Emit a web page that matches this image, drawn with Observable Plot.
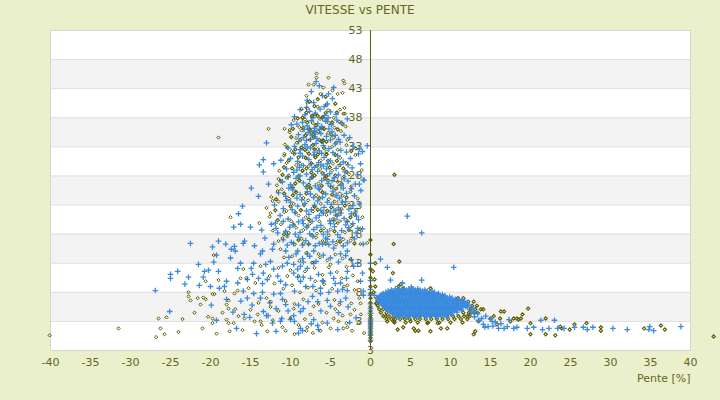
<!DOCTYPE html>
<html><head><meta charset="utf-8">
<script src="https://cdn.jsdelivr.net/npm/d3@7"></script>
<script src="https://cdn.jsdelivr.net/npm/@observablehq/plot@0.6"></script>
<style>
html,body{margin:0;padding:0;background:#ebf0cc;}
#wrap{width:720px;height:400px;overflow:hidden;font-family:"DejaVu Sans",sans-serif;}
#title{height:20px;line-height:20px;text-align:center;font-size:12px;color:#666622;}
</style></head><body><div id="wrap"><div id="title">VITESSE vs PENTE</div><div id="chart"></div></div>
<script>
// ---- data (x = pente %, y = vitesse) ----
const xTicks = [-40,-35,-30,-25,-20,-15,-10,-5,0,5,10,15,20,25,30,35,40];
const yTicks = [53,48,43,38,33,28,23,18,13,8,3];
const yGrid = [53,48,43,38,33,28,23,18,13,8,3,-2];
const greyBands = [43,33,23,13,3];
const yMin = -2;
const yBottomLabel = "3";

const blueLeft = [
 -6.4,43.5, -7.4,42.5, -6,41.8, -4.6,43.2, -5.25,42.1, -4.75,41.3, -7.1,40.6, -5.4,40.4, -7.9,41.0, -6.8,44.2, -5.8,39.9,
 -13,33.7, -9.9,36.8, -9.5,38.2, -13.4,30.8, -13.9,29.9, -13.4,28.7, -12.1,30.1, -14.9,25.9, -12.75,26.6, -16,22.8,
 -0.4,33.2, -1.4,32.7, -1.5,31.8, -1.25,30.1, -0.9,27.3, -1.4,26.6, -1.75,21.1, -1.6,19.0, -1.0,18.9,
 -17.1,19.2, -16.25,19.7, -13.6,18.7, -12.4,19.7, -11.9,19.9, -22.5,16.4, -19,16.8, -19.75,15.8, -19.25,14.4, -18.1,16.3,
 -17.4,15.4, -17,15.9, -16.9,15.1, -15.9,16.4, -15.75,16.8, -19.6,13.2, -20.75,11.6, -20.25,11.8, -20.9,10.6, -21.4,9.2,
 -22.75,10.6, -24.1,11.6, -25,11.1, -25,10.4, -26.9,8.3, -19.9,5.8, -18.9,8.7, -18.25,9.0, -18,9.9, -25.1,4.7,
 -19.25,3.2, -16.75,1.8, -15.1,3.7, -14.25,0.9, -12.25,2.7, -13.4,4.7, -13,4.0, -11.1,3.5, -11.25,3.0, -10,3.3,
 -9.5,3.0, -8.75,1.8, -8.5,1.4, -7.1,3.3, -6.6,2.3, -6.5,1.6, -5.4,2.7, -4.1,1.6, -2.6,2.8, -3.75,6.4,
 -3.1,7.0, -0.9,7.5, -0.9,8.2, -1.25,9.9, -1.0,11.3, -2.9,8.3, -3.75,9.6, -3.5,8.5, -4.6,10.4, -4.1,8.2,
 -6.25,8.7, -6.25,7.8, -5.4,6.6, -6.6,6.4, -7.25,7.3, -8.4,5.2, -9,5.8, -8.75,4.7, -10.6,5.9, -11,6.8,
 -11.25,7.8, -12.1,7.7, -13.5,8.0, -13.75,7.0, -14.6,7.8, -15.4,7.0, -15.9,8.2, -16.6,9.6, -15.4,10.2, -14.75,11.1,
 -14,10.4, -13.4,11.3, -12.9,10.2, -12.1,12.0, -11.6,10.8, -11.25,9.9, -9.6,11.3, -9.1,10.6, -8.75,9.9, -8.1,9.0,
 -7.5,10.4, -6.5,11.1, -5.9,9.9, -5,11.3, -8.75,12.5, -9.1,12.0, -7.9,12.1, -7.1,13.0, -8.4,13.2, -9.6,12.8,
 -10.4,13.0, -11,12.5, -12.5,13.3, -13.1,12.8, -14.6,13.0, -14.9,12.1, -16.25,13.0, -16.6,12.1, -17.5,13.9, -13.75,14.6,
 -13.5,15.1, -12.25,15.4, -12.1,16.3, -10.6,15.1, -10.4,18.0, -11.6,18.2, -9.6,16.4, -9.1,15.1, -7.9,14.6, -7.75,16.3,
 -7.1,15.1, -6,16.3, -5.4,17.1, -4.6,15.6, -3.75,14.6, -2.9,15.1, -0.9,16.3, -1.6,13.0, -2.1,12.5, -2.9,11.6,
 -8.2,38.5, -7.6,39.1, -6.9,38.8, -6.3,39.5, -5.7,38.4, -5.0,39.0, -4.3,38.6, -8.8,39.4,
 -8.5,37.2, -7.9,36.6, -7.4,37.5, -7.0,36.2, -6.6,37.0, -6.1,36.5, -5.6,37.4, -4.9,36.8, -4.2,37.6, -3.6,37.1, -2.9,37.8, -9.2,36.9,
 -9.0,35.1, -8.4,34.6, -7.8,35.5, -7.3,35.0, -7.0,35.8, -6.7,34.4, -6.2,35.3, -5.5,34.8, -4.8,35.6, -4.0,34.3, -3.3,35.0, -2.6,34.6, -8.0,34.1,
 -9.5,33.1, -8.8,32.5, -8.2,33.4, -7.5,32.8, -6.8,33.6, -6.4,32.3, -5.9,33.2, -5.2,32.7, -4.4,33.5, -3.7,32.4, -2.2,33.1, -1.0,32.2, -10.3,32.8,
 -10.0,31.0, -9.1,30.5, -8.5,31.4, -7.7,30.8, -7.1,31.6, -6.5,30.3, -5.8,31.2, -5.0,30.6, -4.1,31.5, -3.4,30.4, -2.5,31.0, -11.2,30.7,
 -10.5,29.2, -9.6,28.6, -8.9,29.5, -8.0,28.3, -7.3,29.1, -6.6,28.8, -5.9,29.7, -5.1,28.4, -4.3,29.3, -3.2,28.7, -2.3,29.4, -1.6,28.2,
 -11.0,27.0, -10.0,26.5, -9.3,27.6, -8.4,26.8, -7.6,27.4, -6.9,26.3, -6.1,27.2, -5.3,26.7, -4.5,27.7, -3.7,26.4, -2.8,27.1, -1.9,26.6, -0.8,27.3,
 -11.5,25.1, -10.6,24.5, -9.7,25.6, -8.8,24.8, -7.9,25.3, -7.1,24.3, -6.4,25.7, -5.6,24.9, -4.7,25.4, -3.9,24.2, -3.0,25.0, -2.0,24.6, -1.2,25.5,
 -12.0,23.0, -10.9,22.4, -10.0,23.5, -9.1,22.8, -8.2,23.3, -7.4,22.2, -6.6,23.7, -5.8,22.6, -4.9,23.1, -4.0,22.5, -3.1,23.6, -2.2,22.9, -1.4,23.2,
 -11.3,21.2, -10.3,20.6, -9.4,21.7, -8.5,20.4, -7.7,21.4, -6.8,20.8, -5.9,21.6, -5.1,20.3, -4.2,21.1, -3.3,20.7, -2.4,21.5, -1.5,20.5,
 -11.8,19.0, -10.6,18.5, -9.7,19.6, -8.8,18.3, -8.0,19.2, -7.1,18.8, -6.2,19.5, -5.4,18.4, -4.5,19.3, -3.6,18.6, -2.7,19.1, -1.8,18.2,
 -10.9,17.0, -9.9,16.6, -9.0,17.5, -8.1,16.9, -7.2,17.6, -6.4,16.4, -5.6,17.3, -4.7,16.7, -3.8,17.4, -2.9,16.5, -2.0,17.2,
 -10.2,14.0, -9.3,14.6, -8.5,13.8, -7.6,14.2, -6.8,13.3, -5.9,14.4, -5.0,13.9, -4.0,13.2, -3.1,14.3, -2.4,13.6,
 -10.6,9.3, -9.5,8.2, -8.4,10.6, -7.2,9.0, -6.0,10.0, -5.2,8.0, -4.4,9.5, -3.0,10.4,
 -12.6,6.2, -11.8,5.2, -10.3,4.8, -9.6,4.0, -7.8,6.4, -6.2,4.8, -5.0,5.6, -4.0,4.5, -2.8,5.5, -1.8,3.6, -7.4,2.6, -9.0,1.0,
 -11.8,1.3, -12.8,4.0, -14.8,5.8, -15.8,4.2, -17.2,4.6, -16.2,6.5, -18.0,6.8, -19.0,11.6, -20.0,9.0, -21.5,12.8, -23.2,9.4,
 -13.5,9.5, -13.2,17.3, -14.5,16.0, -15.0,19.2, -16.5,21.5, -14.0,24.5,
 -8.0,39.8, -7.2,38.0, -6.0,37.9, -5.3,38.0, -8.3,36.0, -7.7,36.1, -6.4,36.0, -5.2,36.1, -4.4,35.0, -7.5,34.3,
 -6.9,35.2, -6.0,34.0, -5.0,34.2, -3.8,33.8, -9.0,33.9, -7.9,33.0, -7.0,32.1, -6.1,31.9, -4.7,32.0, -3.0,32.1,
 -9.6,31.9, -8.8,31.9, -7.4,30.1, -6.2,29.9, -5.4,30.1, -3.8,30.0, -9.2,29.0, -8.4,29.8, -7.0,29.5, -5.5,29.2,
 -4.0,28.2, -2.8,29.9, -10.3,27.8, -8.8,28.0, -7.2,27.9, -5.8,28.2, -4.8,27.2, -3.3,27.5, -9.8,26.0, -8.0,26.2,
 -6.5,25.9, -5.0,26.2, -3.4,25.9, -2.4,25.8, -10.2,25.9, -9.2,24.2, -7.5,24.9, -6.0,24.3, -4.3,24.7, -3.5,23.5,
 -10.5,23.8, -8.6,23.9, -7.0,23.0, -5.4,23.5, -4.4,22.0, -2.7,22.3, -9.8,22.2, -8.0,22.0, -6.2,22.1, -5.0,21.8,
 -3.7,21.6, -1.9,21.8, -10.9,20.2, -9.0,20.1, -7.3,20.2, -6.4,21.2, -4.6,20.3, -2.9,20.1, -10.1,19.2, -8.4,19.8,
 -6.7,19.2, -5.0,19.8, -3.1,19.6, -2.2,19.8, -9.4,18.0, -7.6,18.1, -5.9,18.0, -4.1,17.9, -10.4,16.1, -8.5,16.1,
 -6.9,16.0, -5.2,16.2, -3.4,16.0
];

// olive points of the left cloud drawn above the blue ones
const oliveLeftA = [
 -6.75,45.6, -6.75,44.9, -5.25,44.9, -7.75,43.7, -7.1,43.7, -8,41.8, -5.9,43.2, -6.25,42.1, -4.75,42.7, -4.1,42.1,
 -7.9,40.6, -3.4,44.4, -3.25,43.9, -3.5,42.3, -3.25,39.7, -3.4,38.7, -8.6,39.5,
 -19,34.6, -12.75,36.1, -10.75,36.1, -10.1,35.9, -10.75,31.8, -10.5,30.2, -11.5,27.5, -11.6,25.4, -12.25,23.7,
 -40.1,0.6, -31.5,1.8, -25.5,3.7, -26.5,3.5, -26.25,1.8, -25.75,0.8,
 -17.5,20.9, -13.9,19.9, -12.5,21.6, -19.6,14.4, -20.6,9.9, -22.75,8.0, -22.75,7.3, -22.5,6.6, -21.6,7.0, -20.9,7.1,
 -20.6,6.8, -21.25,5.9, -19.75,7.7, -19.5,7.7, -18.25,8.2, -18,5.9, -17.75,5.2, -19,10.1, -19.75,3.5, -19.75,2.7,
 -19.25,0.9, -18,3.3, -17.75,2.7, -17.6,1.3, -17.1,2.7, -16.5,3.9, -15.75,3.5, -16.9,5.1, -17.75,6.6, -12.9,1.3,
 -13.75,3.0, -14.1,4.2, -10.6,1.4, -9.5,0.8, -7.9,2.0, -8,1.4, -6.25,1.4, -4.6,3.5, -3.4,1.8, -3,2.7,
 -2.9,2.0, -2.5,4.2, -4.4,5.1, -3.9,5.9, -2.4,6.1, -1.25,6.1, -1.4,7.0, -1.6,9.9, -2.9,9.2, -3.6,10.4,
 -7.1,5.6, -9.6,5.2, -12.5,6.4, -13,7.0, -15.25,8.7, -16.6,8.3, -16.25,10.4, -14.4,9.6, -12.6,10.8, -10.4,10.8,
 -6.9,9.9, -5,12.8, -13.75,12.5, -15.9,12.0, -11.25,15.4, -11,17.3, -8.4,16.4, -6.5,14.6, -4.1,16.8, -1.25,16.3,
 -0.4,16.5, -2.5,13.7,
 -8.5,38.0, -7.9,39.6, -7.3,38.3, -6.6,39.9, -6.0,38.1, -5.3,39.3, -4.6,38.0, -3.8,39.4, -3.2,38.7,
 -9.6,37.6, -8.9,36.4, -8.2,37.7, -7.6,36.0, -7.2,37.1, -6.8,36.7, -6.3,37.8, -5.8,36.1, -5.2,37.1, -4.5,36.3, -3.9,37.3, -3.1,36.5,
 -10.1,35.5, -9.3,34.5, -8.6,35.8, -8.1,35.0, -7.6,34.2, -7.1,34.7, -6.5,35.6, -5.9,34.1, -5.3,35.4, -4.6,34.6, -3.7,35.7, -2.9,34.2,
 -10.7,33.4, -9.9,32.3, -9.2,33.7, -8.6,32.9, -7.9,32.2, -7.2,33.3, -6.6,32.6, -6.1,33.9, -5.5,32.2, -4.8,33.0, -4.1,32.5, -3.0,33.3, -1.8,32.7,
 -10.8,31.5, -9.5,31.8, -8.8,30.1, -8.1,31.1, -7.4,30.2, -6.9,31.2, -6.2,30.7, -5.5,31.7, -4.7,30.1, -3.8,31.1, -3.0,30.2, -1.9,31.6,
 -11.4,28.9, -10.2,28.1, -9.3,29.9, -8.5,28.9, -7.7,29.7, -7.0,28.1, -6.3,29.2, -5.5,28.0, -4.8,28.9, -3.9,29.8, -2.7,28.3, -1.1,29.0,
 -11.7,26.4, -10.5,27.7, -9.7,26.1, -8.9,27.2, -8.0,26.0, -7.3,27.8, -6.5,26.7, -5.7,27.6, -4.9,26.1, -4.1,27.0, -3.3,27.9, -2.4,26.2,
 -12.4,24.4, -11.1,25.7, -10.2,24.1, -9.3,25.2, -8.4,24.2, -7.5,25.9, -6.8,24.7, -6.0,25.2, -5.2,24.0, -4.3,25.8, -3.5,24.6, -2.5,25.3, -1.6,24.1,
 -13.0,22.5, -11.5,23.6, -10.5,22.0, -9.6,23.2, -8.7,22.1, -7.8,23.8, -7.0,22.7, -6.2,23.2, -5.4,22.0, -4.5,23.6, -3.6,22.3, -2.7,23.1, -1.8,22.2,
 -12.6,21.0, -10.8,21.8, -9.9,20.2, -9.0,21.2, -8.1,20.9, -7.2,21.9, -6.4,20.2, -5.5,21.3, -4.7,20.6, -3.8,21.8, -2.9,20.3, -2.0,21.3, -1.0,20.9,
 -12.2,18.6, -11.2,19.7, -10.2,18.2, -9.3,19.1, -8.4,18.7, -7.6,19.8, -6.7,18.1, -5.8,19.0, -5.0,18.8, -4.1,19.9, -3.2,18.3, -2.3,19.5, -1.3,18.9,
 -11.5,16.8, -10.4,17.6, -9.5,16.2, -8.6,17.2, -7.7,16.3, -6.8,17.4, -6.0,16.8, -5.2,17.8, -4.3,16.2, -3.4,17.1, -2.5,16.9,
 -9.8,14.2, -8.9,13.4, -8.0,14.8, -7.3,13.1, -6.3,14.0, -5.4,13.5, -4.4,14.5, -3.5,13.8, -10.8,14.0, -11.5,12.2,
 -10.0,11.8, -9.0,10.8, -8.2,11.6, -7.0,12.2, -6.0,11.0, -5.2,12.3, -4.2,11.5, -3.0,12.4, -2.2,10.9,
 -12.0,9.5, -10.9,8.6, -9.8,9.2, -8.8,8.0, -7.8,8.8, -6.8,8.3, -5.8,9.4, -4.8,8.6, -3.3,9.0, -2.0,8.4,
 -12.5,5.5, -11.5,4.8, -10.6,6.5, -9.5,6.0, -8.4,6.8, -7.5,4.2, -6.5,6.0, -5.5,4.5, -4.5,6.7, -3.5,4.0, -2.0,5.0, -1.2,4.2,
 -13.6,2.4, -12.2,3.2, -11.0,2.0, -10.0,3.6, -9.0,2.4, -8.2,3.4, -7.2,1.0, -6.0,2.8, -5.0,1.8, -4.0,3.0, -2.3,1.4, -1.5,2.8, -0.8,1.0,
 -15.0,5.0, -14.0,6.2, -15.5,10.5, -17.0,7.8, -14.5,3.0, -16.0,1.5, -18.5,4.5, -22.0,4.5, -23.5,3.4, -24.0,1.2, -21.0,1.8, -20.3,3.8, -26.8,0.3
];

// olive points of the left cloud drawn under the blue ones
const oliveLeftB = [
 -7.6,40.8, -6.6,41.2, -5.6,41.6, -7.0,40.0, -5.5,40.2, -4.4,40.4, -8.0,38.9, -6.9,38.6, -5.6,38.8, -4.2,38.9,
 -9.1,37.9, -7.9,37.2, -6.6,38.3, -5.5,37.6, -4.8,37.2, -3.5,36.9, -9.7,36.1, -8.4,36.3, -7.0,35.5, -6.1,36.2,
 -4.9,35.1, -4.1,36.0, -9.9,34.7, -8.8,34.2, -7.4,35.4, -6.4,34.2, -5.5,33.9, -4.3,33.7, -10.4,32.9, -9.4,32.6,
 -8.2,32.5, -7.0,32.6, -5.8,32.8, -4.4,31.6, -2.4,32.3, -10.2,30.7, -9.0,31.2, -7.7,31.8, -6.6,31.7, -5.3,30.6,
 -4.2,30.6, -10.8,29.5, -9.8,29.3, -8.0,29.3, -6.7,29.7, -5.1,29.5, -3.4,29.3, -11.0,28.2, -9.0,28.0, -7.4,28.6,
 -6.0,28.5, -4.4,28.1, -3.0,28.7, -11.2,27.1, -9.4,26.7, -7.7,26.5, -6.1,26.3, -5.3,27.2, -3.6,26.6, -10.8,25.0,
 -9.7,24.7, -8.0,25.0, -6.4,24.2, -4.8,24.8, -3.0,24.3, -11.8,24.0, -10.0,22.8, -8.3,23.0, -6.6,22.2, -4.9,22.6,
 -3.2,22.9, -11.9,22.1, -9.4,21.7, -7.7,20.5, -6.0,21.8, -4.2,21.3, -2.5,20.9, -11.6,20.4, -9.6,19.6, -7.9,19.3,
 -6.2,18.6, -4.5,18.5, -2.7,18.7, -10.8,18.0, -9.0,17.0, -7.3,17.8, -5.6,16.4, -3.8,16.7, -2.0,16.4,
 -8.5,38.0, -7.3,38.3, -6.0,38.1, -7.6,36.0, -6.8,36.7, -5.8,36.1, -8.1,35.0, -7.1,34.7, -5.9,34.1, -8.6,32.9,
 -7.2,33.3, -6.1,33.9, -8.1,31.1, -6.9,31.2, -5.5,31.7, -8.5,28.9, -7.0,28.1, -5.5,28.0, -8.9,27.2, -7.3,27.8,
 -5.7,27.6, -9.3,25.2, -7.5,25.9, -6.0,25.2, -8.7,22.1, -7.0,22.7, -5.4,22.0
];

const blueBlobRows = [
 [8.6,[3.1,3.6,4.2,4.8,5.3,5.9]],
 [8.4,[2.6,3.4,3.9,4.5,5.1,5.6,6.2,6.8]],
 [8.2,[2.2,2.7,3.3,3.8,4.3,4.9,5.4,6.0,6.5,7.1,7.7]],
 [8.0,[1.9,2.4,2.9,3.5,4.0,4.6,5.1,5.7,6.3,6.8,7.4,8.0]],
 [7.8,[1.6,2.1,2.6,3.2,3.7,4.1,4.6,5.2,5.7,6.2,6.8,7.3,7.9,8.5]],
 [7.6,[1.4,1.9,2.5,3.0,3.5,4.0,4.6,5.1,5.7,6.2,6.8,7.3,7.8,8.4,9.0]],
 [7.4,[1.2,1.7,2.3,2.8,3.3,3.9,4.4,4.9,5.5,6.0,6.5,7.0,7.6,8.1,8.7,9.3]],
 [7.2,[1.1,1.7,2.2,2.8,3.3,3.9,4.4,5.0,5.5,6.0,6.6,7.1,7.7,8.2,8.8,9.3,9.9]],
 [7.0,[1.0,1.5,2.0,2.6,3.1,3.6,4.1,4.7,5.2,5.8,6.3,6.8,7.4,7.9,8.4,9.0,9.6,10.2]],
 [6.8,[1.0,1.5,2.0,2.5,3.0,3.5,4.0,4.5,5.1,5.6,6.2,6.7,7.2,7.8,8.3,8.9,9.4,10.0,10.6,11.1]],
 [6.6,[1.1,1.6,2.2,2.7,3.3,3.8,4.3,4.8,5.4,5.9,6.5,7.0,7.5,8.1,8.6,9.2,9.7,10.3,10.9,11.4]],
 [6.4,[1.2,1.7,2.3,2.8,3.3,3.8,4.3,4.8,5.3,5.8,6.4,6.9,7.5,8.0,8.5,9.1,9.6,10.2,10.7,11.3,11.8]],
 [6.2,[1.3,1.8,2.4,2.9,3.4,4.0,4.5,5.0,5.6,6.1,6.7,7.2,7.8,8.3,8.8,9.4,9.9,10.5,11.0,11.6,12.1]],
 [6.0,[1.4,2.0,2.5,3.0,3.5,4.0,4.6,5.1,5.6,6.1,6.6,7.1,7.7,8.2,8.7,9.3,9.8,10.4,10.9,11.5,12.0]],
 [5.8,[1.5,2.0,2.6,3.1,3.6,4.2,4.7,5.3,5.8,6.3,6.9,7.4,7.9,8.5,9.0,9.6,10.1,10.7,11.2,11.8,12.3]],
 [5.6,[1.7,2.2,2.7,3.3,3.8,4.3,4.8,5.4,5.9,6.4,7.0,7.5,8.0,8.6,9.1,9.7,10.2,10.8,11.3,11.9]],
 [5.4,[1.9,2.4,2.9,3.4,4.0,4.5,5.1,5.6,6.1,6.7,7.2,7.7,8.3,8.8,9.4,9.9,10.4,11.0,11.5,12.1]],
 [5.2,[2.0,2.5,3.0,3.6,4.1,4.7,5.2,5.7,6.3,6.8,7.3,7.9,8.4,9.0,9.5,10.1,10.6,11.2]],
 [5.0,[2.2,2.8,3.3,3.8,4.4,4.9,5.4,6.0,6.5,7.1,7.6,8.1,8.7,9.2,9.8,10.3,10.8,11.4]],
 [4.8,[2.4,2.9,3.5,4.0,4.5,5.1,5.6,6.2,6.7,7.2,7.8,8.3,8.9,9.4,10.0,10.5]],
 [4.6,[2.6,3.2,3.7,4.2,4.8,5.3,5.9,6.4,6.9,7.5,8.0,8.6,9.1,9.7,10.2,10.8]],
 [4.4,[2.8,3.4,3.9,4.5,5.1,5.6,6.2,6.7,7.3,7.8,8.4,8.9,9.5,10.0]],
 [4.2,[3.0,3.6,4.3,5.0,5.7,6.4,7.1,7.9,8.6,9.3,10.1]],
 [4.0,[3.3,4.0,4.7,5.4,6.1,6.8,7.5,8.2,9.0]],
 [3.8,[3.5,4.6,5.8,7.0,8.3,9.5]]
];

const oliveBlobRows = [
 [2.8,[3.0,4.4,5.9,7.2,8.6,10.0,11.5]],
 [3.4,[2.0,2.6,3.1,3.7,4.3,4.9,5.6,6.2,6.9,7.6,8.3,9.0,9.7,10.5,11.3,12.1]],
 [3.9,[1.6,2.3,2.9,3.5,4.1,4.8,5.4,6.1,6.8,7.5,8.2,8.9,9.6,10.3,11.0,11.7,12.4]],
 [4.5,[1.3,2.0,11.6,12.3,12.9,13.4]],
 [5.1,[1.1,12.5,13.1,13.8]],
 [5.7,[0.9,12.7,13.3]],
 [6.4,[12.2,12.9]],
 [7.0,[10.9,11.6]]
];

const blueRight = [
 4.6,21.1, 6.4,18.2, 1.25,13.7, 2.1,12.3, 2.5,10.1, 4.0,9.6, 5.1,8.9, 6.4,10.1, 10.4,12.3, 0.5,7.5, 0.9,6.6,
 12.6,4.6, 13.0,3.8, 13.4,4.3, 13.9,3.5, 14.4,3.9, 15.0,3.4, 12.8,5.3, 15.6,2.9, 16.3,2.6, 15.3,2.2,
 12.9,4.7, 14.1,2.5, 14.7,2.1, 15.2,3.0, 17.3,3.3, 17.9,1.8, 18.3,2.0, 19.6,1.8, 20.4,2.0, 21.3,3.2,
 21.5,1.6, 22.3,1.8, 23.0,3.2, 23.4,1.8, 24.2,1.8, 25.5,2.0, 26.6,2.0, 27.1,1.6, 27.8,2.0, 30.3,1.8,
 32.1,1.6, 34.8,1.6, 34.9,2.1, 35.4,1.4, 38.8,2.1, 16.7,1.8, 16.0,1.8, 17.1,2.1, 13.5,3.2, 14.3,2.0
];

const oliveRight = [
 3.0,28.2, 0.6,13.0, 3.6,13.3, 2.8,11.3, 0.5,10.2, 0.6,9.0, 0.4,8.0, 0.8,7.0, 0.7,6.1, 0.3,11.6,
 19.7,5.2, 19.0,4.2, 18.3,3.5, 18.5,3.3, 16.3,4.7, 16.7,4.7, 16.2,3.5, 15.8,2.5, 14.1,5.1, 13.5,3.0,
 13.1,1.3, 12.9,0.8, 20.0,2.7, 20.0,0.8, 21.9,3.5, 21.9,0.8, 23.1,0.6, 23.7,2.1, 23.9,1.8, 24.9,1.6,
 25.5,2.5, 27.0,2.7, 28.8,2.0, 28.8,1.4, 34.2,1.8, 36.3,2.3, 36.8,1.6, 42.9,0.4, 17.5,3.0, 17.9,3.5,
 18.8,3.5, 15.4,3.9, 15.0,3.5, 12.5,4.7, 12.1,3.9, 11.3,5.2, 10.8,6.1, 10.4,6.1, 9.1,7.0, 9.6,1.8,
 8.8,1.8, 7.5,1.3, 6.0,1.4, 5.4,1.8, 5.6,1.4, 3.4,1.6, 4.1,2.0, 7.1,2.7, 8.4,2.7, 5.0,3.0,
 2.9,3.0, 2.1,3.0, 1.9,3.9, 1.6,5.1, 1.6,5.9, 0.8,6.1, 2.3,7.3, 2.7,7.7, 3.5,9.0, 3.8,9.4,
 4.1,8.7, 7.5,8.7, 2.9,16.3, 7.9,7.7, 9.0,7.3
];

const oliveAxisY = [-0.4,0.2,0.7,1.0,1.5,2.0,2.4,2.8,3.2,3.6,4.0,4.8,5.5,6.2,7.0,7.8,9.0,10.5,12.0,14.5,17.0];
const blueAxisY = [-0.2,0.6,1.2,1.8,2.2,2.6,3.0,3.4,4.4,5.2,6.0,7.5,8.5,10.0,13.0];

// ---- build tables ----
const pairs = flat => { const o = []; for (let i = 0; i < flat.length; i += 2) o.push({x: flat[i], y: flat[i+1]}); return o; };
const rows = rs => rs.flatMap(([y, xs]) => xs.map(x => ({x, y})));
const col = ys => ys.map(y => ({x: 0, y}));

const oliveBack = [...pairs(oliveLeftB), ...rows(oliveBlobRows), ...pairs(oliveRight), ...col(oliveAxisY)];
const oliveFront = pairs(oliveLeftA);
const blue = [...pairs(blueLeft), ...rows(blueBlobRows), ...pairs(blueRight), ...col(blueAxisY)];

const txt = "#666622";
const oliveStyle = {x: "x", y: "y", symbol: "diamond2", r: 1.5, stroke: "#5c5c00", strokeWidth: 1.1};
const chart = Plot.plot({
  width: 720, height: 380,
  marginTop: 10, marginBottom: 50, marginLeft: 50, marginRight: 30,
  style: {background: "transparent", fontFamily: "'DejaVu Sans', sans-serif", fontSize: "11px", color: txt, overflow: "visible"},
  x: {domain: [-40, 40]},
  y: {domain: [-2, 53], axis: null},
  marks: [
    Plot.frame({fill: "#ffffff"}),
    Plot.rect(greyBands, {y1: d => d, y2: d => d + 5, fill: "#f3f3f3"}),
    Plot.ruleY(yGrid, {stroke: "#dedede"}),
    Plot.frame({stroke: "#d6d6d6"}),
    Plot.text(["VITESSE"], {frameAnchor: "middle", dx: -32, dy: 10, rotate: -90, fill: "#8a8a5a", fontSize: 12}),
    Plot.text(yTicks, {x: 0, y: d => d, text: d => String(d), textAnchor: "end", dx: -8, fill: txt, fontSize: 11}),
    Plot.text([yMin], {x: 0, y: d => d, text: () => yBottomLabel, textAnchor: "middle", fill: txt, fontSize: 11}),
    Plot.dot(oliveBack, oliveStyle),
    Plot.dot(blue, {x: "x", y: "y", symbol: "plus", r: 1.95, stroke: "#3a8bde", strokeWidth: 1.3}),
    Plot.dot(oliveFront, {...oliveStyle, strokeWidth: 1}),
    Plot.ruleX([0], {stroke: "#5e5e0a", strokeWidth: 1}),
    Plot.axisX(xTicks, {tickSize: 0, tickPadding: 8, tickFormat: d => String(d), label: null, fill: txt, fontSize: 11}),
    Plot.text(["Pente [%]"], {frameAnchor: "bottom-right", dy: 31, textAnchor: "end", fill: txt, fontSize: 11})
  ]
});
document.getElementById("chart").appendChild(chart);
</script></body></html>
